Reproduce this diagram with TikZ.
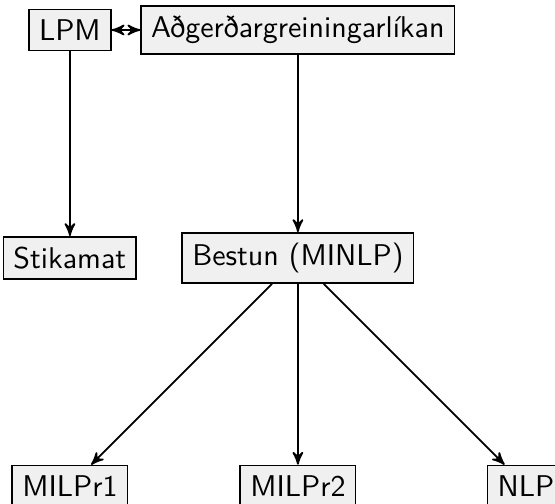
\documentclass[tikz,border=0pt]{standalone}
\usepackage{fontspec}
\usepackage{tikz}
\usetikzlibrary{arrows}
\definecolor{boxgray}{gray}{0.94}
\tikzstyle{box} = [rectangle, draw, fill=boxgray, font=\sffamily]

\begin{document}
\begin{tikzpicture}[->,>=stealth',auto,node distance=76pt,semithick]

  \useasboundingbox (-23.3pt,10pt) rectangle ++(185pt,-167.7pt);

  \node[box]        (LPM)   at (0,0)       {LPM};
  \node[box]        (Adg)   [right of=LPM] {Aðgerðargreiningarlíkan};
  \node[box]        (Stik)  [below of=LPM] {Stikamat};
  \node[box]        (Best)  [below of=Adg] {Bestun (MINLP)};
  \node[box]        (Mil2)  [below of=Best] {MILPr2};
  \node[box]        (Mil1)  [left of=Mil2] {MILPr1};
  \node[box]        (Nlp)   [right of=Mil2] {NLP};

  \path (LPM)  edge[<->]         (Adg)
        (LPM)  edge              (Stik)
        (Adg)  edge              (Best)
        (Best) edge              (Mil1)
        (Best) edge              (Mil2)
        (Best) edge              (Nlp);
\end{tikzpicture}
\end{document}
